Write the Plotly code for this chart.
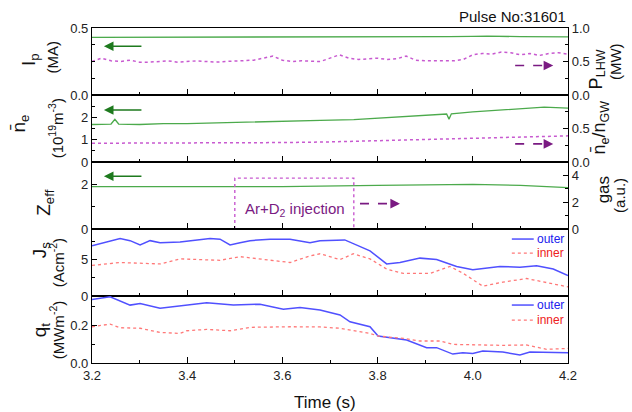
import plotly.graph_objects as go

# ---- time base / axis labels ----
x_tickvals = [3.2, 3.4, 3.6, 3.8, 4.0, 4.2]

# ---- panel 1: plasma current and LHW power ----
ip_t = [3.2, 3.4, 3.6, 3.8, 3.9, 3.95, 4.0, 4.03, 4.1, 4.2]
ip = [0.430, 0.431, 0.430, 0.432, 0.434, 0.436, 0.438, 0.440, 0.435, 0.434]

plhw_t = [3.20, 3.22, 3.24, 3.26, 3.28, 3.30, 3.32, 3.34, 3.36, 3.38, 3.40, 3.42, 3.44,
          3.46, 3.48, 3.50, 3.52, 3.54, 3.56, 3.58, 3.60, 3.62, 3.64, 3.66, 3.68, 3.70,
          3.72, 3.74, 3.76, 3.78, 3.80, 3.82, 3.84, 3.86, 3.88, 3.90, 3.92, 3.94, 3.96,
          3.98, 4.00, 4.02, 4.04, 4.06, 4.08, 4.10, 4.12, 4.14, 4.16, 4.18, 4.20]
plhw = [0.50, 0.55, 0.51, 0.50, 0.52, 0.49, 0.49, 0.50, 0.51, 0.49, 0.50, 0.51, 0.50,
        0.49, 0.50, 0.51, 0.52, 0.52, 0.55, 0.58, 0.52, 0.50, 0.51, 0.50, 0.50, 0.55,
        0.60, 0.55, 0.53, 0.54, 0.55, 0.53, 0.54, 0.58, 0.52, 0.51, 0.51, 0.50, 0.51,
        0.53, 0.60, 0.62, 0.61, 0.64, 0.63, 0.60, 0.62, 0.59, 0.62, 0.63, 0.61]

# ---- panel 2: line-averaged density and Greenwald fraction ----
ne_t = [3.2, 3.24, 3.248, 3.256, 3.3, 3.35, 3.4, 3.45, 3.5, 3.55, 3.6, 3.65, 3.68,
        3.75, 3.8, 3.85, 3.9, 3.945, 3.95, 3.955, 4.0, 4.05, 4.1, 4.15, 4.2]
ne = [1.68, 1.70, 1.91, 1.70, 1.68, 1.72, 1.72, 1.74, 1.76, 1.78, 1.80, 1.84, 1.86,
      1.90, 1.96, 2.04, 2.10, 2.15, 1.92, 2.16, 2.24, 2.32, 2.38, 2.46, 2.41]

fgw_t = [3.2, 3.3, 3.4, 3.5, 3.6, 3.7, 3.8, 3.9, 4.0, 4.1, 4.2]
fgw = [0.28, 0.28, 0.28, 0.285, 0.29, 0.30, 0.32, 0.34, 0.36, 0.38, 0.39]

# ---- panel 3: Zeff and gas puff ----
zeff_t = [3.2, 3.4, 3.6, 3.8, 4.0, 4.1, 4.2]
zeff = [1.90, 1.90, 1.90, 1.95, 2.00, 1.95, 1.85]

gas_t = [3.5, 3.5, 3.75, 3.75]
gas = [0.0, 3.8, 3.8, 0.0]

# ---- panel 4: ion saturation current density ----
js_out_t = [3.2, 3.238, 3.259, 3.28, 3.301, 3.322, 3.343, 3.385, 3.427, 3.448, 3.469,
            3.49, 3.511, 3.532, 3.574, 3.616, 3.658, 3.679, 3.731, 3.784, 3.819, 3.847,
            3.889, 3.924, 3.966, 4.0, 4.057, 4.099, 4.134, 4.169, 4.2]
js_out = [6.9, 7.6, 7.9, 7.6, 7.0, 7.6, 7.3, 7.4, 7.7, 7.9, 7.8, 7.0, 7.3, 7.6, 7.8,
          7.8, 7.3, 7.6, 7.7, 6.2, 4.4, 4.6, 5.2, 5.0, 4.05, 3.6, 4.05, 3.96, 4.15,
          3.7, 2.8]

js_in_t = [3.2, 3.259, 3.343, 3.385, 3.427, 3.469, 3.511, 3.553, 3.616, 3.658, 3.679,
           3.721, 3.749, 3.784, 3.819, 3.854, 3.91, 3.952, 3.98, 4.021, 4.063, 4.113,
           4.169, 4.2]
js_in = [4.2, 4.6, 4.4, 5.1, 5.0, 4.9, 5.4, 5.1, 4.6, 5.5, 5.8, 5.0, 5.8, 5.1, 3.7,
         3.1, 3.1, 4.05, 3.1, 1.35, 1.9, 2.4, 1.7, 1.25]

# ---- panel 5: target heat flux ----
qt_out_t = [3.2, 3.238, 3.28, 3.301, 3.343, 3.385, 3.441, 3.497, 3.553, 3.602, 3.637,
            3.679, 3.721, 3.742, 3.784, 3.801, 3.861, 3.903, 3.924, 3.958, 3.979, 4.0,
            4.021, 4.063, 4.099, 4.12, 4.169, 4.2]
qt_out = [0.335, 0.349, 0.305, 0.314, 0.288, 0.300, 0.317, 0.305, 0.310, 0.283, 0.293,
          0.279, 0.253, 0.217, 0.191, 0.142, 0.121, 0.081, 0.081, 0.047, 0.054, 0.050,
          0.063, 0.058, 0.042, 0.058, 0.054, 0.054]

qt_in_t = [3.2, 3.238, 3.259, 3.301, 3.343, 3.385, 3.399, 3.441, 3.490, 3.532, 3.616,
           3.679, 3.721, 3.784, 3.801, 3.854, 3.889, 3.931, 3.958, 4.0, 4.063, 4.113,
           4.155, 4.2]
qt_in = [0.191, 0.205, 0.186, 0.183, 0.161, 0.156, 0.170, 0.177, 0.170, 0.188, 0.191,
         0.190, 0.183, 0.156, 0.142, 0.130, 0.116, 0.116, 0.098, 0.095, 0.093, 0.095,
         0.072, 0.077]

GREEN = "#4caa4c"
DKGREEN = "#1e7a1e"
MAGENTA = "#c85ad0"
PURPLE = "#7a1a82"
BLUE = "#5050ff"
RED = "#ff7878"
FONT = "Arial, Liberation Sans, sans-serif"

fig = go.Figure()

def add(x, y, xa, ya, color, dash="solid", width=1.3):
    fig.add_trace(go.Scatter(x=x, y=y, xaxis=xa, yaxis=ya, mode="lines",
                             line=dict(color=color, dash=dash, width=width),
                             showlegend=False, hoverinfo="skip"))

add(ip_t, ip, "x", "y", GREEN)
add(plhw_t, plhw, "x", "y6", MAGENTA, "dot", 1.5)
add(ne_t, ne, "x2", "y2", GREEN)
add(fgw_t, fgw, "x2", "y7", MAGENTA, "dot", 1.5)
add(zeff_t, zeff, "x3", "y3", GREEN)
add(gas_t, gas, "x3", "y8", MAGENTA, "dot", 1.4)
add(js_out_t, js_out, "x4", "y4", BLUE, "solid", 1.5)
add(js_in_t, js_in, "x4", "y4", RED, "dot", 1.3)
add(qt_out_t, qt_out, "x5", "y5", BLUE, "solid", 1.5)
add(qt_in_t, qt_in, "x5", "y5", RED, "dot", 1.3)

tickfont = dict(family=FONT, size=13, color="#222")
common = dict(showline=True, linecolor="black", linewidth=1.2, ticks="inside",
              tickcolor="black", ticklen=5, tickwidth=1.2, zeroline=False,
              showgrid=False, tickfont=tickfont)

domains = [[0.8, 1.0], [0.6, 0.8], [0.4, 0.6], [0.2, 0.4], [0.0, 0.2]]
names = ["", "2", "3", "4", "5"]

layout = dict(width=632, height=412, margin=dict(l=92, r=64, t=28, b=49),
              paper_bgcolor="white", plot_bgcolor="white", showlegend=False)

for i, n in enumerate(names):
    layout["xaxis" + n] = dict(common, range=[3.2, 4.2], tickvals=x_tickvals,
                               ticktext=[f"{v:.1f}" for v in x_tickvals],
                               showticklabels=(i == 4), anchor="y" + n,
                               mirror=True, ticklen=6,
                               minor=dict(dtick=0.1, tick0=3.2, ticks="inside",
                                          ticklen=3, tickcolor="black"),
                               matches=None if i == 0 else "x")

# left axes
layout["yaxis"] = dict(common, domain=domains[0], range=[0, 0.5], tickvals=[0, 0.5],
                       tickformat=".1f", anchor="x",
                       minor=dict(dtick=0.125, ticks="inside", ticklen=3, tickcolor="black"))
layout["yaxis2"] = dict(common, domain=domains[1], range=[0, 3], tickvals=[0, 1, 2],
                        anchor="x2",
                        minor=dict(dtick=0.5, ticks="inside", ticklen=3, tickcolor="black"))
layout["yaxis3"] = dict(common, domain=domains[2], range=[0, 3], tickvals=[0, 2],
                        anchor="x3",
                        minor=dict(dtick=1, ticks="inside", ticklen=3, tickcolor="black"))
layout["yaxis4"] = dict(common, domain=domains[3], range=[0, 9.2], tickvals=[0, 5],
                        anchor="x4", mirror=True,
                        minor=dict(dtick=2.5, ticks="inside", ticklen=3, tickcolor="black"))
layout["yaxis5"] = dict(common, domain=domains[4], range=[0, 0.353], tickvals=[0, 0.2],
                        tickformat=".1f", anchor="x5", mirror=True,
                        minor=dict(dtick=0.1, ticks="inside", ticklen=3, tickcolor="black"))
# right axes
layout["yaxis6"] = dict(common, overlaying="y", side="right", anchor="x",
                        range=[0, 1.0], tickvals=[0, 0.5, 1.0], tickformat=".1f",
                        minor=dict(dtick=0.25, ticks="inside", ticklen=3, tickcolor="black"))
layout["yaxis7"] = dict(common, overlaying="y2", side="right", anchor="x2",
                        range=[0, 1.0], tickvals=[0, 0.5], tickformat=".1f",
                        minor=dict(dtick=0.25, ticks="inside", ticklen=3, tickcolor="black"))
layout["yaxis8"] = dict(common, overlaying="y3", side="right", anchor="x3",
                        range=[0, 5], tickvals=[0, 2, 4],
                        minor=dict(dtick=1, ticks="inside", ticklen=3, tickcolor="black"))

fig.update_layout(**layout)

def ytitle(text, x, y, size=17):
    fig.add_annotation(text=text, xref="paper", yref="paper", x=x, y=y,
                       textangle=-90, showarrow=False,
                       font=dict(family=FONT, size=size, color="#111"),
                       xanchor="center", yanchor="middle")

ytitle("I<sub>p</sub>", -0.130, 0.905, 19)
ytitle("(MA)", -0.082, 0.915, 15)
ytitle("n\u0304<sub>e</sub>", -0.151, 0.715, 19)
ytitle("(10<sup>19</sup>m<sup>-3</sup>)", -0.076, 0.700, 15)
ytitle("Z<sub>eff</sub>", -0.099, 0.478, 19)
ytitle("J<sub>s</sub>", -0.107, 0.337, 19)
ytitle("(Acm<sup>-2</sup>)", -0.074, 0.300, 15)
ytitle("q<sub>t</sub>", -0.107, 0.098, 19)
ytitle("(MWm<sup>-2</sup>)", -0.074, 0.100, 15)
ytitle("P<sub>LHW</sub>", 1.062, 0.875, 18)
ytitle("(MW)", 1.100, 0.900, 15)
ytitle("n\u0304<sub>e</sub>/n<sub>GW</sub>", 1.068, 0.704, 18)
ytitle("gas", 1.074, 0.516, 17)
ytitle("(a.u.)", 1.108, 0.500, 15)

fig.add_annotation(text="Pulse No:31601", xref="paper", yref="paper", x=1.0, y=1.035,
                   xanchor="right", yanchor="middle", showarrow=False,
                   font=dict(family=FONT, size=15, color="#111"))
fig.add_annotation(text="Time (s)", xref="paper", yref="paper", x=0.49, y=-0.118,
                   xanchor="center", yanchor="middle", showarrow=False,
                   font=dict(family=FONT, size=17, color="#111"))
fig.add_annotation(text="Ar+D<sub>2</sub> injection", xref="paper", yref="paper",
                   x=0.427, y=0.457, xanchor="center", yanchor="middle", showarrow=False,
                   font=dict(family=FONT, size=15, color=PURPLE))

# legends for the probe panels
for ylo_o, ylo_i in [(0.370, 0.328), (0.173, 0.128)]:
    fig.add_shape(type="line", xref="paper", yref="paper", x0=0.882, x1=0.928,
                  y0=ylo_o, y1=ylo_o, line=dict(color=BLUE, width=1.5))
    fig.add_shape(type="line", xref="paper", yref="paper", x0=0.882, x1=0.928,
                  y0=ylo_i, y1=ylo_i, line=dict(color=RED, width=1.3, dash="dot"))
    fig.add_annotation(text="outer", xref="paper", yref="paper", x=0.995, y=ylo_o,
                       xanchor="right", yanchor="middle", showarrow=False,
                       font=dict(family=FONT, size=12, color="#2020ee"))
    fig.add_annotation(text="inner", xref="paper", yref="paper", x=0.995, y=ylo_i,
                       xanchor="right", yanchor="middle", showarrow=False,
                       font=dict(family=FONT, size=12, color="#ee2020"))

# arrows pointing to the axis each curve belongs to
for xa, ya, yv in [("x", "y", 0.364), ("x2", "y2", 2.33), ("x3", "y3", 2.36)]:
    fig.add_annotation(x=3.225, y=yv, ax=3.307, ay=yv, xref=xa, yref=ya,
                       axref=xa, ayref=ya, showarrow=True, arrowhead=2,
                       arrowsize=1.2, arrowwidth=1.6, arrowcolor=DKGREEN, text="")

for xa, ya, yv, t0, t1 in [("x", "y6", 0.44, 4.089, 4.169),
                           ("x2", "y7", 0.27, 4.089, 4.169),
                           ("x3", "y8", 1.89, 3.763, 3.847)]:
    fig.add_shape(type="line", xref=xa, yref=ya, x0=t0, x1=t1 - 0.012, y0=yv, y1=yv,
                  line=dict(color=PURPLE, width=1.6, dash="dash"))
    fig.add_annotation(x=t1, y=yv, ax=t1 - 0.014, ay=yv, xref=xa, yref=ya,
                       axref=xa, ayref=ya, showarrow=True, arrowhead=2,
                       arrowsize=1.2, arrowwidth=1.6, arrowcolor=PURPLE, text="")

fig.write_html("out.html")
